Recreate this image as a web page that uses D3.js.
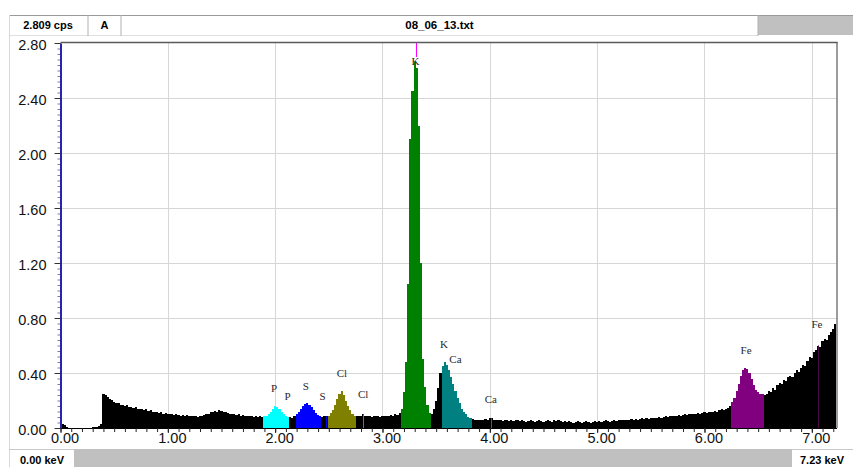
<!DOCTYPE html>
<html><head><meta charset="utf-8">
<script src="https://cdn.jsdelivr.net/npm/d3@7"></script>
<style>html,body{margin:0;padding:0;background:#fff;overflow:hidden;} svg{display:block;}</style>
</head><body>
<svg id="c" width="853" height="467"></svg>
<script>
// ---------- data ----------
const startEnergy = 0.00;      // keV of first channel
const channelWidth = 0.02;     // keV per channel
const energyMax = 7.23;
const countsMax = 2.80;
// cps per channel, 0.00 .. 7.22 keV
const counts = [
  0.010,0.030,0.025,0.010,0.003,0.002,0.002,0.002,0.002,0.002, // 0.00
  0.002,0.002,0.002,0.002,0.002,0.004,0.006,0.010,0.015,0.030, // 0.20
  0.250,0.240,0.225,0.210,0.205,0.190,0.180,0.185,0.170,0.165, // 0.40
  0.160,0.170,0.155,0.150,0.145,0.150,0.140,0.135,0.140,0.130, // 0.60
  0.135,0.125,0.130,0.120,0.115,0.120,0.110,0.115,0.105,0.110, // 0.80
  0.100,0.105,0.100,0.095,0.100,0.095,0.090,0.095,0.090,0.095, // 1.00
  0.090,0.085,0.090,0.085,0.080,0.085,0.090,0.095,0.100,0.105, // 1.20
  0.115,0.120,0.125,0.120,0.130,0.125,0.120,0.115,0.110,0.105, // 1.40
  0.100,0.100,0.095,0.100,0.090,0.095,0.090,0.085,0.090,0.085, // 1.60
  0.080,0.085,0.080,0.085,0.080,0.085,0.090,0.100,0.120,0.140, // 1.80
  0.160,0.155,0.140,0.120,0.100,0.085,0.080,0.080,0.075,0.085, // 2.00
  0.100,0.120,0.140,0.160,0.175,0.180,0.170,0.150,0.130,0.110, // 2.20
  0.095,0.085,0.080,0.085,0.085,0.090,0.110,0.130,0.170,0.210, // 2.40
  0.250,0.270,0.240,0.200,0.160,0.130,0.100,0.090,0.090,0.085, // 2.60
  0.090,0.100,0.090,0.085,0.090,0.080,0.090,0.085,0.090,0.080, // 2.80
  0.085,0.090,0.085,0.090,0.095,0.090,0.100,0.095,0.110,0.140, // 3.00
  0.260,0.480,1.050,2.100,2.450,2.660,2.620,2.200,1.200,0.500, // 3.20
  0.300,0.170,0.110,0.100,0.140,0.200,0.290,0.400,0.450,0.480, // 3.40
  0.460,0.420,0.370,0.320,0.270,0.220,0.180,0.140,0.120,0.100, // 3.60
  0.080,0.070,0.065,0.060,0.055,0.060,0.055,0.060,0.065,0.060, // 3.80
  0.070,0.075,0.060,0.055,0.060,0.055,0.050,0.055,0.060,0.050, // 4.00
  0.055,0.050,0.055,0.060,0.050,0.055,0.050,0.045,0.050,0.055, // 4.20
  0.050,0.045,0.050,0.055,0.050,0.045,0.050,0.055,0.050,0.045, // 4.40
  0.055,0.050,0.055,0.050,0.045,0.050,0.045,0.050,0.045,0.040, // 4.60
  0.045,0.050,0.045,0.040,0.045,0.050,0.045,0.040,0.045,0.050, // 4.80
  0.045,0.050,0.045,0.050,0.055,0.050,0.045,0.050,0.055,0.050, // 5.00
  0.055,0.060,0.055,0.060,0.055,0.060,0.065,0.060,0.065,0.060, // 5.20
  0.065,0.070,0.065,0.070,0.065,0.070,0.075,0.070,0.075,0.080, // 5.40
  0.075,0.080,0.085,0.080,0.085,0.090,0.085,0.090,0.095,0.090, // 5.60
  0.095,0.100,0.095,0.100,0.105,0.100,0.105,0.110,0.105,0.110, // 5.80
  0.115,0.110,0.120,0.115,0.120,0.125,0.120,0.130,0.135,0.130, // 6.00
  0.140,0.145,0.160,0.190,0.220,0.270,0.320,0.380,0.420,0.440, // 6.20
  0.430,0.400,0.360,0.310,0.280,0.260,0.250,0.250,0.240,0.250, // 6.40
  0.270,0.260,0.290,0.280,0.310,0.330,0.320,0.350,0.340,0.370, // 6.60
  0.380,0.370,0.400,0.420,0.410,0.440,0.460,0.450,0.490,0.520, // 6.80
  0.510,0.550,0.570,0.600,0.590,0.630,0.650,0.640,0.680,0.700, // 7.00
  0.720,0.760                                                  // 7.20
];
const yTickValues = [0.00, 0.40, 0.80, 1.20, 1.60, 2.00, 2.40, 2.80];
const xTickValues = [0, 1, 2, 3, 4, 5, 6, 7];

// regions of interest (channel centres, keV)
const roiElements = ["P", "S", "Cl", "K", "Ca", "Fe"];
const roiFrom     = [1.90, 2.20, 2.50, 3.18, 3.56, 6.26];
const roiTo       = [2.12, 2.42, 2.74, 3.44, 3.82, 6.54];

// secondary line markers (keV)
const markerElements = ["S", "Cl", "Ca", "Fe"];
const markerEnergies = [2.47, 2.815, 4.01, 7.055];
const mainLineEnergy = 3.31;   // K Ka cursor

// peak labels
const labelElements = ["P", "P", "S", "S", "Cl", "Cl", "K", "K", "Ca", "Ca", "Fe", "Fe"];
const labelEnergies = [1.99, 2.116, 2.286, 2.442, 2.622, 2.82, 3.307, 3.572, 3.68, 4.01, 6.387, 7.048];
const labelHeights  = [0.263, 0.207, 0.280, 0.207, 0.372, 0.217, 2.640, 0.585, 0.476, 0.185, 0.537, 0.726];

const headerCps = "2.809 cps";
const headerMode = "A";
const headerFile = "08_06_13.txt";
const footerLeft = "0.00 keV";
const footerRight = "7.23 keV";

// ---------- styles ----------
const elementColors = {P: "#00ffff", S: "#0000ff", Cl: "#808000", K: "#008000", Ca: "#008080", Fe: "#800080"};
const markerColors = {S: "#0000ff", Cl: "#808000", Ca: "#008080", Fe: "#4a0a44"};

// ---------- drawing ----------
const svg = d3.select("#c");
const L = 60.5, R = 836.5, T = 42, B = 428;
const x = d3.scaleLinear().domain([0, energyMax]).range([L, R]);
const y = d3.scaleLinear().domain([0, countsMax]).range([B, 43]);

// header
const hdr = svg.append("g");
hdr.append("rect").attr("x", 758).attr("y", 15).attr("width", 95).attr("height", 20).attr("fill", "#c0c0c0");
hdr.append("line").attr("x1", 9).attr("x2", 853).attr("y1", 15.5).attr("y2", 15.5).attr("stroke", "#9a9a9a");
hdr.append("line").attr("x1", 9).attr("x2", 758).attr("y1", 35.5).attr("y2", 35.5).attr("stroke", "#e0e0e0");
[9.5, 88, 121, 758].forEach(v => hdr.append("line").attr("x1", v).attr("x2", v).attr("y1", 15).attr("y2", 36).attr("stroke", "#b0b0b0"));
hdr.append("text").attr("x", 48).attr("y", 29).attr("text-anchor", "middle")
  .style("font", "bold 11px 'Liberation Sans', Arial, sans-serif").text(headerCps);
hdr.append("text").attr("x", 104.5).attr("y", 29).attr("text-anchor", "middle")
  .style("font", "bold 11px 'Liberation Sans', Arial, sans-serif").text(headerMode);
hdr.append("text").attr("x", 439.5).attr("y", 29).attr("text-anchor", "middle")
  .style("font", "bold 11.5px 'Liberation Sans', Arial, sans-serif").text(headerFile);

// left outer frame line
svg.append("line").attr("x1", 9.5).attr("x2", 9.5).attr("y1", 15).attr("y2", 467).attr("stroke", "#d8d8d8");

// footer
const ftr = svg.append("g");
ftr.append("rect").attr("x", 74).attr("y", 449).attr("width", 718).attr("height", 18).attr("fill", "#c0c0c0");
ftr.append("line").attr("x1", 9).attr("x2", 74).attr("y1", 449.5).attr("y2", 449.5).attr("stroke", "#c8c8c8");
ftr.append("line").attr("x1", 792).attr("x2", 853).attr("y1", 449.5).attr("y2", 449.5).attr("stroke", "#c8c8c8");
ftr.append("text").attr("x", 42).attr("y", 463.5).attr("text-anchor", "middle")
  .style("font", "bold 11px 'Liberation Sans', Arial, sans-serif").text(footerLeft);
ftr.append("text").attr("x", 822).attr("y", 463.5).attr("text-anchor", "middle")
  .style("font", "bold 11px 'Liberation Sans', Arial, sans-serif").text(footerRight);

// grid
const grid = svg.append("g").attr("stroke", "#d6d6d6").attr("stroke-width", 1);
xTickValues.filter(d => d > 0).forEach(d => {
  const px = Math.round(x(d)) + 0.5;
  grid.append("line").attr("x1", px).attr("x2", px).attr("y1", T).attr("y2", B);
});
yTickValues.filter(d => d > 0 && d < countsMax).forEach(d => {
  const py = Math.round(y(d)) + 0.5;
  grid.append("line").attr("x1", L).attr("x2", R).attr("y1", py).attr("y2", py);
});

// spectrum
function roiOf(E) {
  for (let k = 0; k < roiElements.length; k++) {
    if (E >= roiFrom[k] - 1e-6 && E <= roiTo[k] + 1e-6) return roiElements[k];
  }
  return null;
}
const bins = counts.map((v, i) => {
  const E = startEnergy + i * channelWidth;
  return {E, v, roi: roiOf(E)};
});
svg.append("g").attr("shape-rendering", "crispEdges")
  .selectAll("rect").data(bins).join("rect")
  .attr("x", d => Math.round(x(Math.max(0, d.E - channelWidth / 2))))
  .attr("width", d => Math.round(x(Math.min(energyMax, d.E + channelWidth / 2))) - Math.round(x(Math.max(0, d.E - channelWidth / 2))))
  .attr("y", d => y(d.v))
  .attr("height", d => B - y(d.v))
  .attr("fill", d => d.roi ? elementColors[d.roi] : "#000");

// secondary line markers
function countAt(E) {
  const i = Math.round((E - startEnergy) / channelWidth);
  return counts[Math.max(0, Math.min(counts.length - 1, i))];
}
markerElements.forEach((el, k) => {
  const px = Math.round(x(markerEnergies[k])) + 0.5;
  svg.append("line").attr("x1", px).attr("x2", px)
    .attr("y1", B).attr("y2", y(countAt(markerEnergies[k])))
    .attr("stroke", markerColors[el]).attr("stroke-width", 1);
});

// main cursor line
{
  const px = Math.round(x(mainLineEnergy)) + 0.5;
  svg.append("line").attr("x1", px).attr("x2", px).attr("y1", T).attr("y2", y(labelHeights[6]) - 8)
    .attr("stroke", "#ff00ff").attr("stroke-width", 1);
}

// peak labels
svg.append("g").selectAll("text").data(labelElements).join("text")
  .attr("x", (d, i) => x(labelEnergies[i]))
  .attr("y", (d, i) => y(labelHeights[i]))
  .attr("text-anchor", "middle")
  .style("font", "11px 'Liberation Serif', 'Times New Roman', serif")
  .attr("fill", "#2a2a2a")
  .text(d => d);

// frame
svg.append("line").attr("x1", L).attr("x2", R + 1).attr("y1", T + 0.5).attr("y2", T + 0.5).attr("stroke", "#5a5a5a").attr("stroke-width", 1.5);
svg.append("line").attr("x1", R + 0.5).attr("x2", R + 0.5).attr("y1", T).attr("y2", B).attr("stroke", "#5a5a5a").attr("stroke-width", 1.2);

// y axis
const yMinor = d3.range(0, countsMax + 1e-6, 0.04);
const gyMinor = svg.append("g").attr("transform", `translate(${L},0)`)
  .call(d3.axisLeft(y).tickValues(yMinor).tickSize(3).tickSizeOuter(0).tickFormat(""));
gyMinor.select(".domain").remove();
gyMinor.selectAll("line").attr("stroke", "#7a7a9a");
const gy = svg.append("g").attr("transform", `translate(${L},0)`)
  .call(d3.axisLeft(y).tickValues(yTickValues).tickSize(6).tickPadding(8).tickSizeOuter(0).tickFormat(d3.format(".2f")));
gy.select(".domain").attr("stroke", "#2525b0").attr("stroke-width", 2);
gy.selectAll("line").attr("stroke", "#333");
gy.selectAll("text").style("font", "14.5px 'Liberation Sans', Arial, sans-serif").attr("fill", "#111").attr("dy", "0.42em");

// x axis
const xMinor = d3.range(0, energyMax + 1e-6, 0.1);
const gxMinor = svg.append("g").attr("transform", `translate(0,${B})`)
  .call(d3.axisBottom(x).tickValues(xMinor).tickSize(4).tickSizeOuter(0).tickFormat(""));
gxMinor.select(".domain").attr("stroke", "#000");
gxMinor.selectAll("line").attr("stroke", "#222");
const gx = svg.append("g").attr("transform", `translate(0,${B})`)
  .call(d3.axisBottom(x).tickValues(xTickValues).tickSize(5).tickSizeOuter(0).tickFormat(d3.format(".2f")));
gx.select(".domain").remove();
gx.selectAll("line").attr("stroke", "#222");
gx.selectAll("text").style("font", "14.5px 'Liberation Sans', Arial, sans-serif").attr("fill", "#111")
  .attr("y", 5).attr("dy", "0.72em").attr("dx", 4);
</script>
</body></html>
